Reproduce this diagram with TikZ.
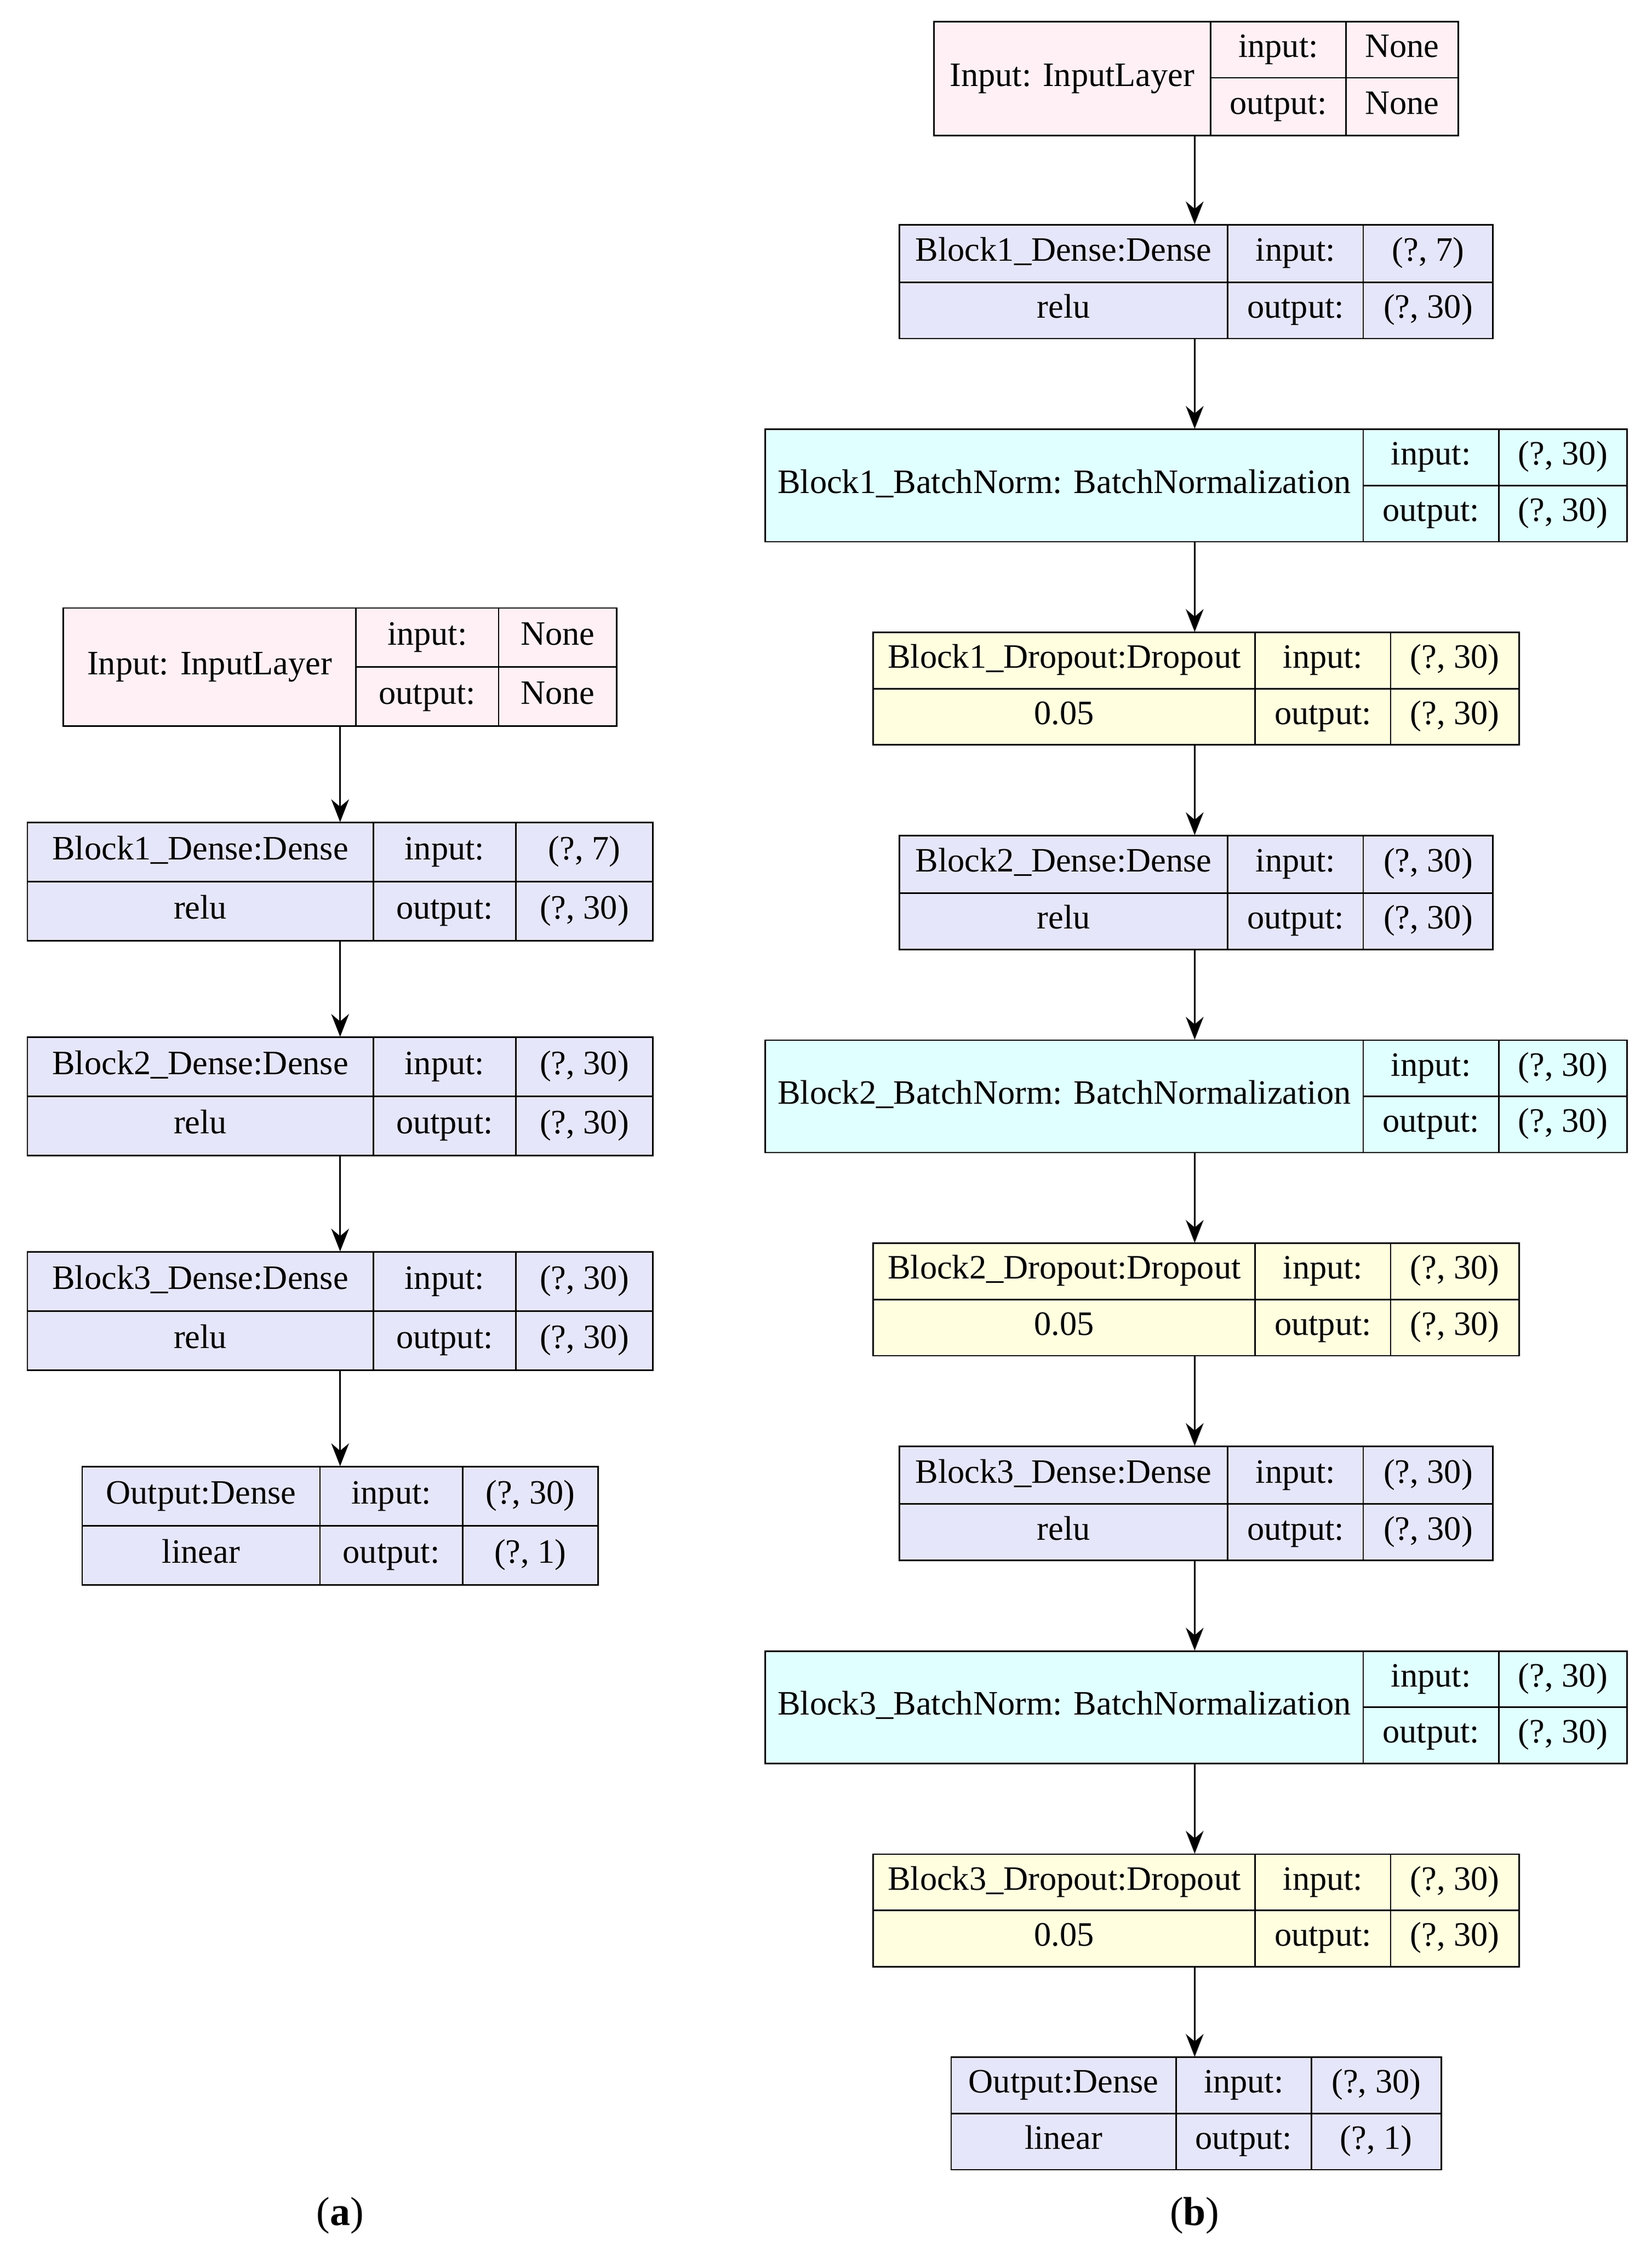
\documentclass[tikz,border=0pt]{standalone}
\usepackage{fontspec}
\setmainfont{Liberation Serif}
\usetikzlibrary{arrows.meta,fit}
\definecolor{cpink}{HTML}{FFF0F5}
\definecolor{clav}{HTML}{E6E6FA}
\definecolor{ccyan}{HTML}{E0FFFF}
\definecolor{cyel}{HTML}{FFFFE0}
\tikzset{box/.style={draw,line width=0.6pt},
  txt/.style={font=\fontsize{13.5}{15}\selectfont,inner sep=0pt},
  conn/.style={line width=0.6pt,-{Stealth[length=9pt,width=7pt]}}}
\newcommand\recbox[9]{%
  \path[box,fill=#9] (#2,#6) rectangle (#5,#8);
  \draw[line width=0.6pt] (#3,#6)--(#3,#8) (#4,#6)--(#4,#8) (#3,#7)--(#5,#7);
  \node[inner sep=0pt,fit={(#2,#6)(#5,#8)}] (#1) {};
  \coordinate (#1-a) at ({(#2+#3)/2},{(#6+#8)/2});
  \coordinate (#1-at) at ({(#2+#3)/2},{(#6+#7)/2});
  \coordinate (#1-ab) at ({(#2+#3)/2},{(#7+#8)/2});
  \coordinate (#1-it) at ({(#3+#4)/2},{(#6+#7)/2});
  \coordinate (#1-ib) at ({(#3+#4)/2},{(#7+#8)/2});
  \coordinate (#1-vt) at ({(#4+#5)/2},{(#6+#7)/2});
  \coordinate (#1-vb) at ({(#4+#5)/2},{(#7+#8)/2});
  \coordinate (#1-ml) at (#2,#7);
  \coordinate (#1-m) at (#3,#7);
}
\newcommand\rectxt[5]{%
  \ifx\relax#3\relax
    \node[txt] (#1-n1) at (#1-a) {\strut #2};
  \else
    \draw[line width=0.6pt] (#1-ml)--(#1-m);
    \node[txt] (#1-n1) at (#1-at) {\strut #2};
    \node[txt] (#1-n2) at (#1-ab) {\strut #3};
  \fi
  \node[txt] (#1-n3) at (#1-it) {\strut input:};
  \node[txt] (#1-n4) at (#1-ib) {\strut output:};
  \node[txt] (#1-n5) at (#1-vt) {\strut #4};
  \node[txt] (#1-n6) at (#1-vb) {\strut #5};
}
\begin{document}
\begin{tikzpicture}[x=0.02cm,y=-0.02cm]
\useasboundingbox (0,0) rectangle (1146,1568);
% (a)
\recbox{ai}{44}{247}{346}{428}{422}{463}{504}{cpink}
\rectxt{ai}{Input: InputLayer}{}{None}{None}
\recbox{a1}{19}{259}{358}{453}{571}{612}{653}{clav}
\rectxt{a1}{Block1\_Dense:Dense}{relu}{(?, 7)}{(?, 30)}
\recbox{a2}{19}{259}{358}{453}{720}{761}{802}{clav}
\rectxt{a2}{Block2\_Dense:Dense}{relu}{(?, 30)}{(?, 30)}
\recbox{a3}{19}{259}{358}{453}{869}{910}{951}{clav}
\rectxt{a3}{Block3\_Dense:Dense}{relu}{(?, 30)}{(?, 30)}
\recbox{ao}{57}{222}{321}{415}{1018}{1059}{1100}{clav}
\rectxt{ao}{Output:Dense}{linear}{(?, 30)}{(?, 1)}
\draw[conn] (ai.south -| 236,0) -- (a1.north -| 236,0);
\draw[conn] (a1.south -| 236,0) -- (a2.north -| 236,0);
\draw[conn] (a2.south -| 236,0) -- (a3.north -| 236,0);
\draw[conn] (a3.south -| 236,0) -- (ao.north -| 236,0);
\node[txt,font=\fontsize{16}{18}\selectfont] (la) at (236,1538) {(\textbf{a})};
% (b)
\recbox{bi}{648}{840}{934}{1012}{15}{54}{94}{cpink}
\rectxt{bi}{Input: InputLayer}{}{None}{None}
\recbox{b1}{624}{852}{946}{1036}{156}{196}{235}{clav}
\rectxt{b1}{Block1\_Dense:Dense}{relu}{(?, 7)}{(?, 30)}
\recbox{b2}{531}{946}{1040}{1129}{298}{337}{376}{ccyan}
\rectxt{b2}{Block1\_BatchNorm: BatchNormalization}{}{(?, 30)}{(?, 30)}
\recbox{b3}{606}{871}{965}{1054}{439}{478}{517}{cyel}
\rectxt{b3}{Block1\_Dropout:Dropout}{0.05}{(?, 30)}{(?, 30)}
\recbox{b4}{624}{852}{946}{1036}{580}{620}{659}{clav}
\rectxt{b4}{Block2\_Dense:Dense}{relu}{(?, 30)}{(?, 30)}
\recbox{b5}{531}{946}{1040}{1129}{722}{761}{800}{ccyan}
\rectxt{b5}{Block2\_BatchNorm: BatchNormalization}{}{(?, 30)}{(?, 30)}
\recbox{b6}{606}{871}{965}{1054}{863}{902}{941}{cyel}
\rectxt{b6}{Block2\_Dropout:Dropout}{0.05}{(?, 30)}{(?, 30)}
\recbox{b7}{624}{852}{946}{1036}{1004}{1044}{1083}{clav}
\rectxt{b7}{Block3\_Dense:Dense}{relu}{(?, 30)}{(?, 30)}
\recbox{b8}{531}{946}{1040}{1129}{1146}{1185}{1224}{ccyan}
\rectxt{b8}{Block3\_BatchNorm: BatchNormalization}{}{(?, 30)}{(?, 30)}
\recbox{b9}{606}{871}{965}{1054}{1287}{1326}{1365}{cyel}
\rectxt{b9}{Block3\_Dropout:Dropout}{0.05}{(?, 30)}{(?, 30)}
\recbox{bo}{660}{816}{910}{1000}{1428}{1467}{1506}{clav}
\rectxt{bo}{Output:Dense}{linear}{(?, 30)}{(?, 1)}
\foreach \u/\v in {bi/b1,b1/b2,b2/b3,b3/b4,b4/b5,b5/b6,b6/b7,b7/b8,b8/b9,b9/bo}
  \draw[conn] (\u.south -| 829,0) -- (\v.north -| 829,0);
\node[txt,font=\fontsize{16}{18}\selectfont] (lb) at (829,1538) {(\textbf{b})};
\end{tikzpicture}
\end{document}
